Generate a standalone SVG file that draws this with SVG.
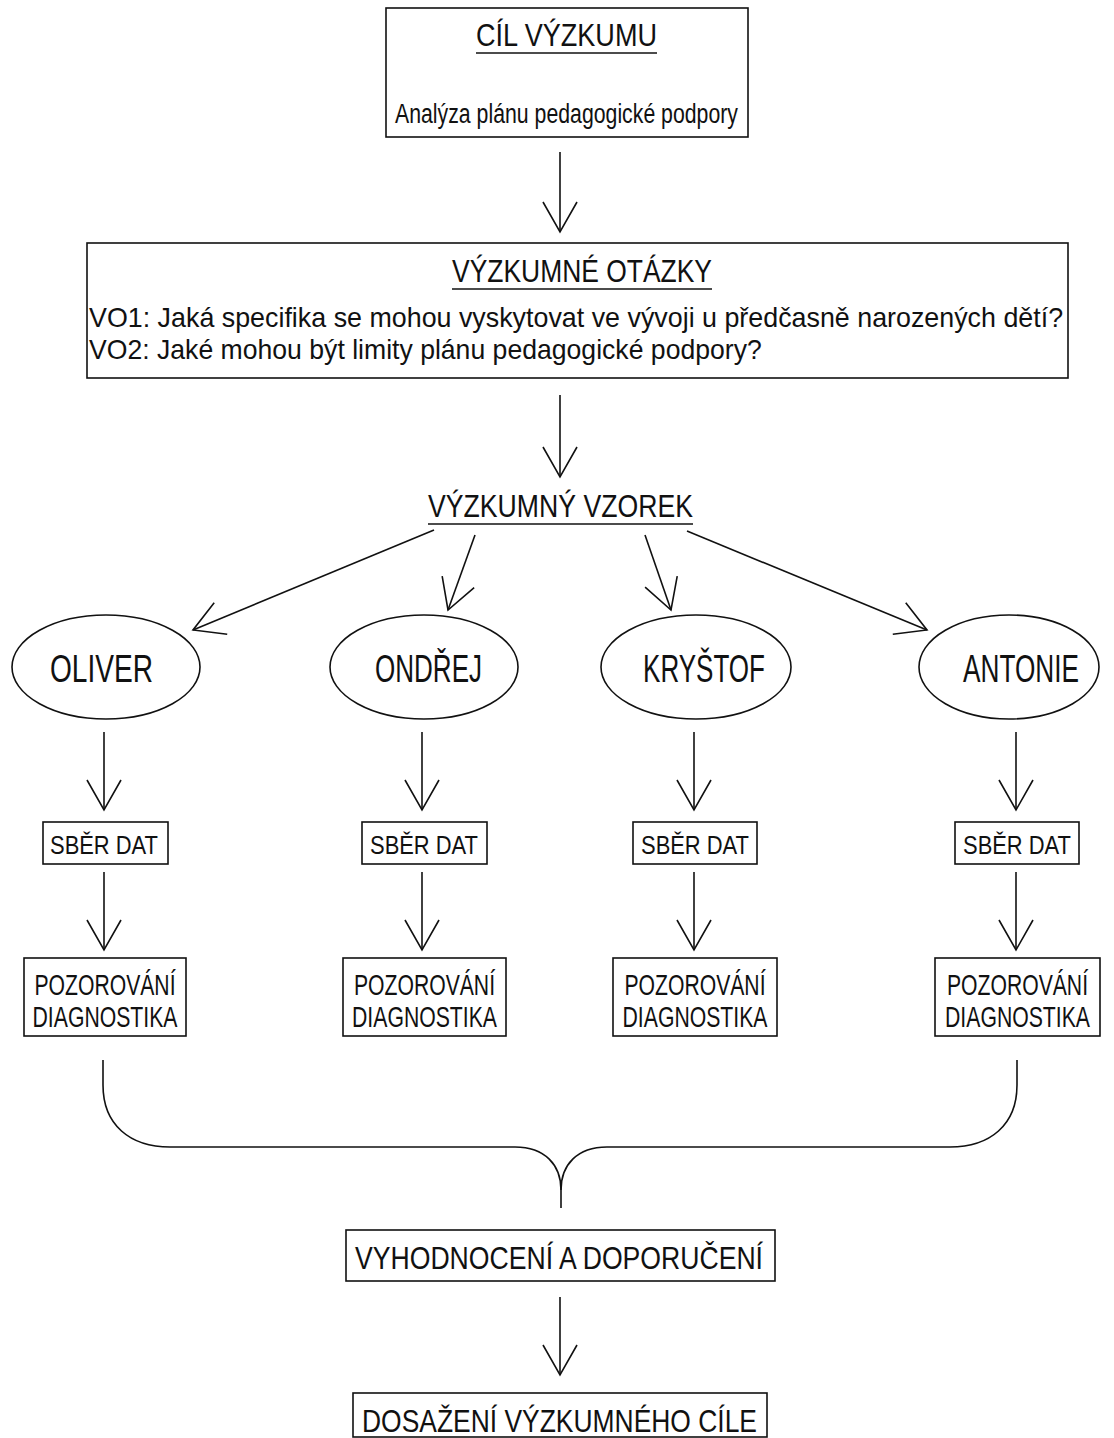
<svg xmlns="http://www.w3.org/2000/svg" width="1114" height="1438" viewBox="0 0 1114 1438">
<defs>
<marker id="ah" markerUnits="userSpaceOnUse" markerWidth="40" markerHeight="40" viewBox="-32 -20 34 40" refX="0" refY="0" orient="auto">
<path d="M -30 -17 L 0 0 L -30 17" fill="none" stroke="#111" stroke-width="1.6"/>
</marker>
<style>
.box{fill:#fff;stroke:#111;stroke-width:1.6}
.ell{fill:#fff;stroke:#111;stroke-width:1.6}
.ln{fill:none;stroke:#111;stroke-width:1.6}
.arr{fill:none;stroke:#111;stroke-width:1.6;marker-end:url(#ah)}
text{font-family:"Liberation Sans",Arial,sans-serif;fill:#111}
.big{font-size:32px}
.vo{font-size:27px}
.sub{font-size:28px}
.name{font-size:38px}
.sb{font-size:26px}
.pz{font-size:29px}
.c{text-anchor:middle}
</style>
</defs>
<rect width="1114" height="1438" fill="#fff"/>

<g id="cil">
<rect class="box" x="386" y="8" width="362" height="129"/>
<text class="big c" transform="translate(566.5 46) scale(0.84 1)" textLength="215.5" lengthAdjust="spacingAndGlyphs">CÍL VÝZKUMU</text>
<line class="ln" x1="476" y1="53" x2="657" y2="53"/>
<text class="sub c" transform="translate(566.5 123) scale(0.76 1)" textLength="451.3" lengthAdjust="spacingAndGlyphs">Analýza plánu pedagogické podpory</text>
</g>

<g id="otazky">
<rect class="box" x="87" y="243" width="981" height="135"/>
<text class="big c" transform="translate(582 282) scale(0.81 1)" textLength="321" lengthAdjust="spacingAndGlyphs">VÝZKUMNÉ OTÁZKY</text>
<line class="ln" x1="452" y1="289" x2="712" y2="289"/>
<text class="vo" transform="translate(89 327) scale(0.994 1)" textLength="980" lengthAdjust="spacingAndGlyphs">VO1: Jaká specifika se mohou vyskytovat ve vývoji u předčasně narozených dětí?</text>
<text class="vo" transform="translate(89 359) scale(0.975 1)" textLength="690" lengthAdjust="spacingAndGlyphs">VO2: Jaké mohou být limity plánu pedagogické podpory?</text>
</g>

<g id="vzorek">
<text class="big c" transform="translate(560.5 517) scale(0.83 1)" textLength="319.3" lengthAdjust="spacingAndGlyphs">VÝZKUMNÝ VZOREK</text>
<line class="ln" x1="428" y1="524" x2="693" y2="524"/>
</g>

<g id="oliver">
<ellipse class="ell" cx="106" cy="667" rx="94" ry="52"/>
<text class="name c" transform="translate(101.5 682) scale(0.74 1)" textLength="139.2" lengthAdjust="spacingAndGlyphs">OLIVER</text>
</g>
<g id="ondrej">
<ellipse class="ell" cx="424" cy="667" rx="94" ry="52"/>
<text class="name c" transform="translate(428.5 682) scale(0.685 1)" textLength="156.2" lengthAdjust="spacingAndGlyphs">ONDŘEJ</text>
</g>
<g id="krystof">
<ellipse class="ell" cx="696" cy="667" rx="95" ry="52"/>
<text class="name c" transform="translate(704 682) scale(0.68 1)" textLength="179.4" lengthAdjust="spacingAndGlyphs">KRYŠTOF</text>
</g>
<g id="antonie">
<ellipse class="ell" cx="1009" cy="667" rx="90" ry="52"/>
<text class="name c" transform="translate(1021 682) scale(0.69 1)" textLength="168.1" lengthAdjust="spacingAndGlyphs">ANTONIE</text>
</g>

<g id="sber1"><rect class="box" x="43" y="822" width="125" height="42"/><text class="sb c" transform="translate(104 854) scale(0.83 1)" textLength="130.1" lengthAdjust="spacingAndGlyphs">SBĚR DAT</text></g>
<g id="sber2"><rect class="box" x="362" y="822" width="125" height="42"/><text class="sb c" transform="translate(424 854) scale(0.83 1)" textLength="130.1" lengthAdjust="spacingAndGlyphs">SBĚR DAT</text></g>
<g id="sber3"><rect class="box" x="633" y="822" width="124" height="42"/><text class="sb c" transform="translate(695 854) scale(0.83 1)" textLength="130.1" lengthAdjust="spacingAndGlyphs">SBĚR DAT</text></g>
<g id="sber4"><rect class="box" x="955" y="822" width="124" height="42"/><text class="sb c" transform="translate(1017 854) scale(0.83 1)" textLength="130.1" lengthAdjust="spacingAndGlyphs">SBĚR DAT</text></g>

<g id="poz1"><rect class="box" x="24" y="958" width="162" height="78"/>
<text class="pz c" transform="translate(105 995) scale(0.73 1)" textLength="193.2" lengthAdjust="spacingAndGlyphs">POZOROVÁNÍ</text>
<text class="pz c" transform="translate(105 1027) scale(0.73 1)" textLength="198.6" lengthAdjust="spacingAndGlyphs">DIAGNOSTIKA</text></g>
<g id="poz2"><rect class="box" x="343" y="958" width="163" height="78"/>
<text class="pz c" transform="translate(424.5 995) scale(0.73 1)" textLength="193.2" lengthAdjust="spacingAndGlyphs">POZOROVÁNÍ</text>
<text class="pz c" transform="translate(424.5 1027) scale(0.73 1)" textLength="198.6" lengthAdjust="spacingAndGlyphs">DIAGNOSTIKA</text></g>
<g id="poz3"><rect class="box" x="613" y="958" width="164" height="78"/>
<text class="pz c" transform="translate(695 995) scale(0.73 1)" textLength="193.2" lengthAdjust="spacingAndGlyphs">POZOROVÁNÍ</text>
<text class="pz c" transform="translate(695 1027) scale(0.73 1)" textLength="198.6" lengthAdjust="spacingAndGlyphs">DIAGNOSTIKA</text></g>
<g id="poz4"><rect class="box" x="935" y="958" width="165" height="78"/>
<text class="pz c" transform="translate(1017.5 995) scale(0.73 1)" textLength="193.2" lengthAdjust="spacingAndGlyphs">POZOROVÁNÍ</text>
<text class="pz c" transform="translate(1017.5 1027) scale(0.73 1)" textLength="198.6" lengthAdjust="spacingAndGlyphs">DIAGNOSTIKA</text></g>

<g id="vyhodnoceni">
<rect class="box" x="346" y="1230" width="429" height="51"/>
<text class="big c" transform="translate(559 1269) scale(0.826 1)" textLength="494" lengthAdjust="spacingAndGlyphs">VYHODNOCENÍ A DOPORUČENÍ</text>
</g>

<g id="dosazeni">
<rect class="box" x="353" y="1393" width="414" height="44"/>
<text class="big c" transform="translate(559.5 1432) scale(0.827 1)" textLength="477.6" lengthAdjust="spacingAndGlyphs">DOSAŽENÍ VÝZKUMNÉHO CÍLE</text>
</g>

<g id="connectors">
<line class="arr" x1="560" y1="152" x2="560" y2="232"/>
<line class="arr" x1="560" y1="395" x2="560" y2="477"/>
<line class="arr" x1="434" y1="530" x2="193" y2="630"/>
<line class="arr" x1="475" y1="535" x2="448" y2="610"/>
<line class="arr" x1="645" y1="535" x2="671" y2="610"/>
<line class="arr" x1="687" y1="531" x2="927" y2="630"/>
<line class="arr" x1="104" y1="732" x2="104" y2="810"/>
<line class="arr" x1="422" y1="732" x2="422" y2="810"/>
<line class="arr" x1="694" y1="732" x2="694" y2="810"/>
<line class="arr" x1="1016" y1="732" x2="1016" y2="810"/>
<line class="arr" x1="104" y1="872" x2="104" y2="950"/>
<line class="arr" x1="422" y1="872" x2="422" y2="950"/>
<line class="arr" x1="694" y1="872" x2="694" y2="950"/>
<line class="arr" x1="1016" y1="872" x2="1016" y2="950"/>
<path class="ln" d="M 103 1060 L 103 1085 C 103 1125 130 1147 170 1147 L 515 1147 C 545 1147 561 1165 561 1190 L 561 1208"/>
<path class="ln" d="M 1017 1060 L 1017 1085 C 1017 1125 990 1147 950 1147 L 607 1147 C 577 1147 561 1165 561 1190"/>
<line class="arr" x1="560" y1="1297" x2="560" y2="1375"/>
</g>
</svg>
